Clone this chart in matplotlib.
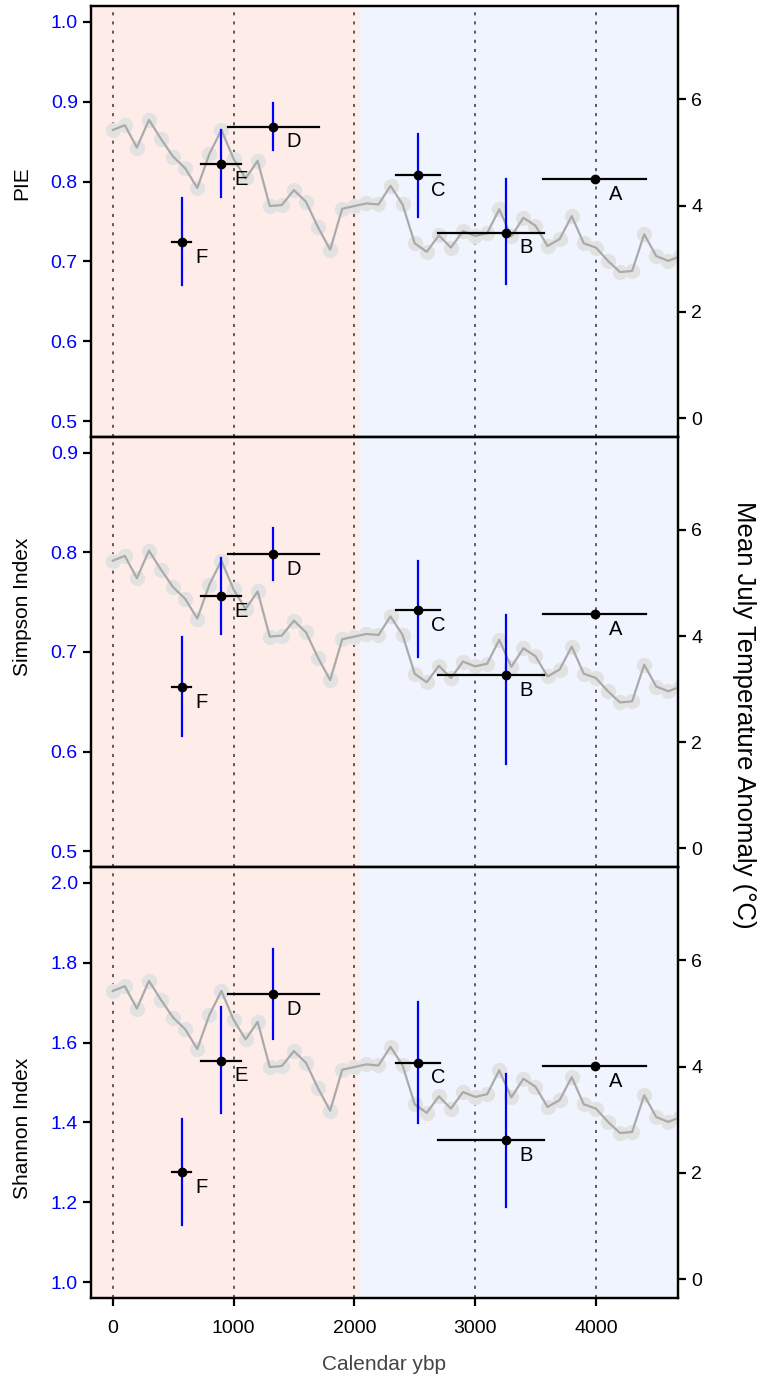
import matplotlib
matplotlib.use("Agg")
import matplotlib.pyplot as plt

plt.rcParams["font.family"] = ["Liberation Sans", "DejaVu Sans"]

# Temperature reconstruction (calendar ybp, mean July temperature anomaly)
temp_age = [0, 100, 200, 300, 400, 500, 600, 700, 800, 900,
            1000, 1100, 1200, 1300, 1400, 1500, 1600, 1700, 1800, 1900,
            2000, 2100, 2200, 2300, 2400, 2500, 2600, 2700, 2800, 2900,
            3000, 3100, 3200, 3300, 3400, 3500, 3600, 3700, 3800, 3900,
            4000, 4100, 4200, 4300, 4400, 4500, 4600, 4700]
temp_anom = [5.42, 5.51, 5.09, 5.61, 5.25, 4.92, 4.70, 4.33, 4.97, 5.42,
             4.88, 4.51, 4.84, 3.99, 4.01, 4.29, 4.07, 3.59, 3.17, 3.94,
             3.99, 4.04, 4.02, 4.37, 4.02, 3.29, 3.13, 3.44, 3.21, 3.52,
             3.43, 3.48, 3.93, 3.42, 3.77, 3.62, 3.24, 3.37, 3.80, 3.29,
             3.21, 2.96, 2.75, 2.77, 3.46, 3.05, 2.96, 3.05]

# Samples: age and age range
sample_names = ["F", "E", "D", "C", "B", "A"]
sample_age = [572, 895, 1328, 2527, 3256, 3993]
sample_age_lo = [494, 729, 955, 2345, 2695, 3565]
sample_age_hi = [650, 1060, 1710, 2709, 3573, 4416]

# Diversity indices with confidence intervals
pie_val = [0.724, 0.822, 0.869, 0.808, 0.736, 0.803]
pie_lo = [0.671, 0.781, 0.840, 0.756, 0.672, 0.803]
pie_hi = [0.779, 0.865, 0.898, 0.860, 0.803, 0.803]

simpson_val = [0.665, 0.756, 0.798, 0.742, 0.677, 0.738]
simpson_lo = [0.616, 0.718, 0.772, 0.695, 0.587, 0.738]
simpson_hi = [0.715, 0.794, 0.825, 0.791, 0.737, 0.738]

shannon_val = [1.276, 1.555, 1.722, 1.550, 1.356, 1.541]
shannon_lo = [1.143, 1.424, 1.609, 1.398, 1.188, 1.541]
shannon_hi = [1.409, 1.689, 1.835, 1.702, 1.521, 1.541]

# name, values, lower, upper, y limits, y ticks, label position (axes fraction)
panels = [
    ("PIE", pie_val, pie_lo, pie_hi, (0.48, 1.02), [0.5, 0.6, 0.7, 0.8, 0.9, 1.0], 0.589),
    ("Simpson Index", simpson_val, simpson_lo, simpson_hi, (0.484, 0.916), [0.5, 0.6, 0.7, 0.8, 0.9], 0.605),
    ("Shannon Index", shannon_val, shannon_lo, shannon_hi, (0.96, 2.04), [1.0, 1.2, 1.4, 1.6, 1.8, 2.0], 0.394),
]

x_ticks = [0, 1000, 2000, 3000, 4000]
split_age = 2050


def draw_panel(fig, rect, name, val, lo, hi, ylim, yticks, label_y, bottom):
    ax = fig.add_axes(rect)
    ax2 = ax.twinx()
    # diversity axis on top of the temperature axis
    ax.set_zorder(ax2.get_zorder() + 1)
    ax.patch.set_visible(False)

    ax.set_xlim(-180, 4680)
    ax2.axvspan(-180, split_age, color="#feece9", lw=0, zorder=0)
    ax2.axvspan(split_age, 4680, color="#eff4fe", lw=0, zorder=0)
    for xt in x_ticks:
        ax2.axvline(xt, color="#333333", lw=1.1, ls=(0, (2, 4)), zorder=1)

    # temperature curve
    ax2.plot(temp_age, temp_anom, "o", ms=11, color="#e2e2e2", mec="none", zorder=2)
    ax2.plot(temp_age, temp_anom, "-", lw=1.6, color="#aaaaaa", zorder=3)
    ax2.set_ylim(-0.35, 7.75)
    ax2.set_yticks([0, 2, 4, 6])

    # samples
    for i, s in enumerate(sample_names):
        ax.plot([sample_age_lo[i], sample_age_hi[i]], [val[i], val[i]], color="black", lw=1.6)
        ax.plot([sample_age[i], sample_age[i]], [lo[i], hi[i]], color="blue", lw=1.6)
        ax.plot(sample_age[i], val[i], "o", color="black", ms=6)
        ax.annotate(s, (sample_age[i], val[i]), xytext=(14.5, -11), textcoords="offset points",
                    ha="center", va="center", fontsize=14.5)

    ax.set_ylim(*ylim)
    ax.set_yticks(yticks)
    ax.set_yticklabels(["%.1f" % t for t in yticks])
    ax.text(-0.1175, label_y, name, transform=ax.transAxes, rotation=90,
            ha="center", va="center", fontsize=15)

    for a in (ax, ax2):
        for sp in a.spines.values():
            sp.set_linewidth(1.6)
        a.tick_params(width=1.6, length=6, labelsize=14)
    ax.tick_params(axis="y", labelcolor="blue")

    ax.set_xticks(x_ticks)
    if bottom:
        ax.set_xticklabels([str(t) for t in x_ticks])
        ax.tick_params(axis="x", pad=10)
        ax.set_xlabel("Calendar ybp", fontsize=15, color="#444444", labelpad=13)
    else:
        ax.tick_params(axis="x", bottom=False, labelbottom=False)
    return ax


def main():
    fig = plt.figure(figsize=(7.63, 13.8), dpi=100)
    left = 91 / 763
    width = (678 - 91) / 763
    edges = [6, 437, 867, 1298]
    for k, (name, val, lo, hi, ylim, yticks, label_y) in enumerate(panels):
        y0 = 1 - edges[k + 1] / 1380
        h = (edges[k + 1] - edges[k]) / 1380
        draw_panel(fig, [left, y0, width, h], name, val, lo, hi, ylim, yticks, label_y, k == 2)

    fig.text(744 / 763, 1 - 715 / 1380, "Mean July Temperature Anomaly (\u00b0C)",
             rotation=-90, ha="center", va="center", fontsize=18.5)
    fig.savefig("out.png", dpi=100)


if __name__ == "__main__":
    main()
